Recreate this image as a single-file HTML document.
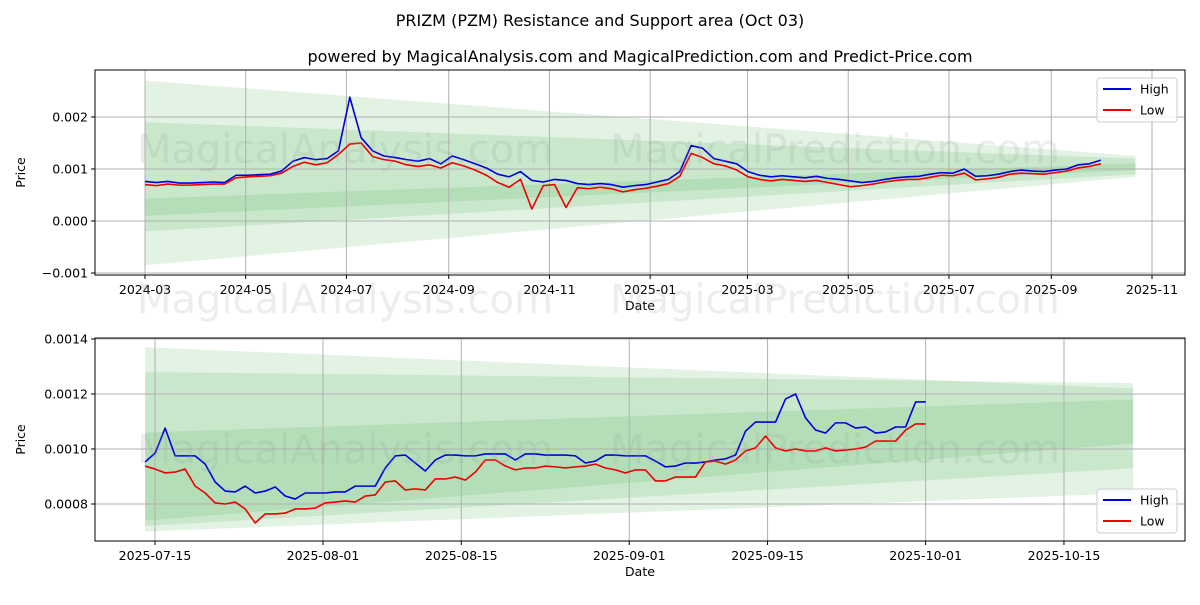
<!DOCTYPE html>
<html><head><meta charset="utf-8"><style>
body{margin:0;background:#fff;font-family:"Liberation Sans","DejaVu Sans",sans-serif;}
svg text{font-family:"DejaVu Sans","Liberation Sans",sans-serif;}
</style></head><body>
<svg id="c" width="1200" height="600" xmlns="http://www.w3.org/2000/svg"></svg>
<script>
// ---- data (values in units of 1e-4) ----
const topHigh=[7.6,7.4,7.6,7.3,7.3,7.4,7.5,7.4,8.8,8.8,8.9,9.0,9.6,11.5,12.2,11.8,12.0,13.5,23.8,16,13.5,12.5,12.2,11.8,11.5,12,11.0,12.5,11.8,11.0,10.2,9.0,8.5,9.5,7.8,7.5,8.0,7.8,7.2,7.0,7.2,7.0,6.5,6.8,7.0,7.5,8.0,9.5,14.5,14.0,12.0,11.5,11.0,9.5,8.8,8.5,8.7,8.5,8.3,8.6,8.2,8.0,7.7,7.4,7.6,8.0,8.3,8.5,8.6,9.0,9.3,9.2,10.0,8.6,8.7,9.0,9.5,9.8,9.6,9.5,9.8,10.0,10.8,11.0,11.7];
const topLow=[7.0,6.8,7.1,6.9,6.9,7.0,7.1,7.1,8.3,8.5,8.6,8.7,9.2,10.5,11.3,10.8,11.2,12.8,14.8,15,12.4,11.8,11.5,10.8,10.5,10.8,10.2,11.2,10.6,9.8,8.8,7.4,6.5,8.0,2.3,6.8,7.0,2.6,6.4,6.2,6.5,6.2,5.6,6.0,6.3,6.7,7.2,8.6,13.0,12.2,11.0,10.6,9.8,8.5,8.0,7.7,8.0,7.8,7.6,7.8,7.4,7.0,6.6,6.8,7.1,7.5,7.8,8.0,8.0,8.4,8.8,8.7,9.2,7.9,8.1,8.4,9.0,9.2,9.1,9.0,9.3,9.6,10.2,10.5,11.0];
const botHigh=[9.53,9.85,10.76,9.75,9.75,9.75,9.45,8.80,8.47,8.44,8.65,8.40,8.47,8.62,8.29,8.18,8.40,8.40,8.40,8.44,8.44,8.65,8.65,8.65,9.31,9.75,9.78,9.49,9.20,9.60,9.78,9.78,9.75,9.75,9.82,9.82,9.82,9.60,9.82,9.82,9.78,9.78,9.78,9.75,9.49,9.56,9.78,9.78,9.75,9.75,9.75,9.56,9.35,9.38,9.49,9.49,9.53,9.60,9.64,9.78,10.65,10.98,10.98,10.98,11.82,12.0,11.13,10.69,10.58,10.95,10.95,10.76,10.80,10.58,10.62,10.80,10.80,11.71,11.71];
const botLow=[9.38,9.27,9.13,9.16,9.27,8.65,8.40,8.04,8.0,8.07,7.82,7.31,7.64,7.64,7.67,7.82,7.82,7.85,8.04,8.07,8.11,8.07,8.29,8.33,8.80,8.84,8.51,8.55,8.51,8.91,8.91,8.98,8.87,9.16,9.60,9.60,9.38,9.24,9.31,9.31,9.38,9.35,9.31,9.35,9.38,9.45,9.31,9.24,9.13,9.24,9.24,8.84,8.84,8.98,8.98,8.98,9.53,9.56,9.45,9.60,9.93,10.04,10.47,10.04,9.93,10.0,9.93,9.93,10.04,9.93,9.96,10.0,10.07,10.29,10.29,10.29,10.69,10.91,10.91];
const topYTicks=[-0.001,0,0.001,0.002];
const topYLabels=["−0.001","0.000","0.001","0.002"];
const topXLabels=["2024-03","2024-05","2024-07","2024-09","2024-11","2025-01","2025-03","2025-05","2025-07","2025-09","2025-11"];
const topXDays=[0,61,122,184,245,306,365,426,487,549,610];
const botYTicks=[0.0008,0.0010,0.0012,0.0014];
const botYLabels=["0.0008","0.0010","0.0012","0.0014"];
const botXLabels=["2025-07-15","2025-08-01","2025-08-15","2025-09-01","2025-09-15","2025-10-01","2025-10-15"];
const botXDays=[0,17,31,48,62,78,92];
// bands: [startLow,startHigh,endLow,endHigh] price
const topBands=[[-0.00085,0.0027,0.00085,0.00125],[-0.0002,0.0019,0.0009,0.0012],[0.0001,0.00043,0.00098,0.00111]];
const botBands=[[0.00070,0.00137,0.00084,0.00122],[0.00072,0.00128,0.00093,0.00124],[0.00074,0.00106,0.00102,0.00118]];

const S=document.getElementById('c');const NS='http://www.w3.org/2000/svg';
function el(t,a,p){const e=document.createElementNS(NS,t);for(const k in a)e.setAttribute(k,a[k]);(p||S).appendChild(e);return e;}
function txt(x,y,s,sz,anch,extra){const e=el('text',Object.assign({x:x,y:y,'font-size':sz,'text-anchor':anch||'middle',fill:'#000'},extra||{}));e.textContent=s;return e;}

let t=txt(600,26,'PRIZM (PZM) Resistance and Support area (Oct 03)',16);



function panel(o){
  const g=el('g',{});
  
  
  const X=d=>o.x0+d*o.pxd;
  const Y=v=>o.yA+(v-o.vA)*o.pxv;
  o.bands.forEach((b,i)=>{
    const p=el('polygon',{points:`${X(o.bs)},${Y(b[0])} ${X(o.be)},${Y(b[2])} ${X(o.be)},${Y(b[3])} ${X(o.bs)},${Y(b[1])}`,fill:'#4caf50','fill-opacity':0.16},g);
    
    
  });
  o.xDays.forEach((d,i)=>{
    el('line',{x1:X(d),x2:X(d),y1:o.top,y2:o.bot,stroke:'#b0b0b0','stroke-width':1},g);
    el('line',{x1:X(d),x2:X(d),y1:o.bot,y2:o.bot+4,stroke:'#000'},g);
    const l=txt(X(d),o.bot+19,o.xLabels[i],12.5);
    
    
  });
  o.yTicks.forEach((v,i)=>{
    el('line',{x1:95,x2:1185,y1:Y(v),y2:Y(v),stroke:'#b0b0b0'},g);
    el('line',{x1:91,x2:95,y1:Y(v),y2:Y(v),stroke:'#000'},g);
    const l=txt(88,Y(v)+4.5,o.yLabels[i],12.5,'end');
    
    
  });
  [[345,o.wm],[835,o.wm]].forEach((w,i)=>{
    const l=txt(w[0],w[1],i?'MagicalPrediction.com':'MagicalAnalysis.com',40,'middle',{fill:'#999','fill-opacity':0.18});
    
    
  });
  function line(arr,col,nm){
    const n=arr.length;
    const pts=arr.map((v,i)=>X(o.ds+i*o.span/(n-1))+','+Y(v*1e-4)).join(' ');
    const p=el('polyline',{points:pts,fill:'none',stroke:col,'stroke-width':1.6,'stroke-linejoin':'round'},g);
    
    
  }
  line(o.high,'#0000dd','high-line');line(o.low,'#ee0000','low-line');
  const fr=el('rect',{x:95,y:o.top,width:1090,height:o.bot-o.top,fill:'none',stroke:'#000'},g);
  
  
  const xl=txt(640,o.bot+35,'Date',12.5);
  
  
  const cy=(o.top+o.bot)/2;
  const yl=txt(0,0,'Price',12.5,'middle',{transform:`translate(${o.ytx},${cy}) rotate(-90)`});
  
  
  const lg=el('g',{},g);
  
  
  el('rect',{x:1097,y:o.leg,width:80,height:44,rx:3,fill:'#fff','fill-opacity':0.8,stroke:'#ccc'},lg);
  [['High','#0000dd'],['Low','#ee0000']].forEach((e,i)=>{
    const yy=o.leg+11+i*21;
    const ent=el('g',{},lg);
    
    
    el('line',{x1:1103,x2:1131,y1:yy,y2:yy,stroke:e[1],'stroke-width':2},ent);
    const tt=txt(1140,yy+4.5,e[0],12.5,'start');ent.appendChild(tt);
  });
}
panel({name:'top-panel',top:70,bot:275,x0:145,pxd:1007/610,yA:221,vA:0,pxv:-52000,
  bands:topBands,bs:0,be:600,xDays:topXDays,xLabels:topXLabels,yTicks:topYTicks,yLabels:topYLabels,
  high:topHigh,low:topLow,ds:0,span:579,wm:163,ytx:25,leg:78});
const sub=txt(640,62,'powered by MagicalAnalysis.com and MagicalPrediction.com and Predict-Price.com',16);


panel({name:'bottom-panel',top:338,bot:541,x0:155,pxd:9.88,yA:449,vA:0.001,pxv:-275000,
  bands:botBands,bs:-1,be:99,xDays:botXDays,xLabels:botXLabels,yTicks:botYTicks,yLabels:botYLabels,
  high:botHigh,low:botLow,ds:-1,span:79,wm:463,ytx:25,leg:489});
[['MagicalAnalysis.com',345],['MagicalPrediction.com',835]].forEach(w=>{
  const l=txt(w[1],313,w[0],40,'middle',{fill:'#999','fill-opacity':0.18});
  
  
});
</script>
</body></html>
